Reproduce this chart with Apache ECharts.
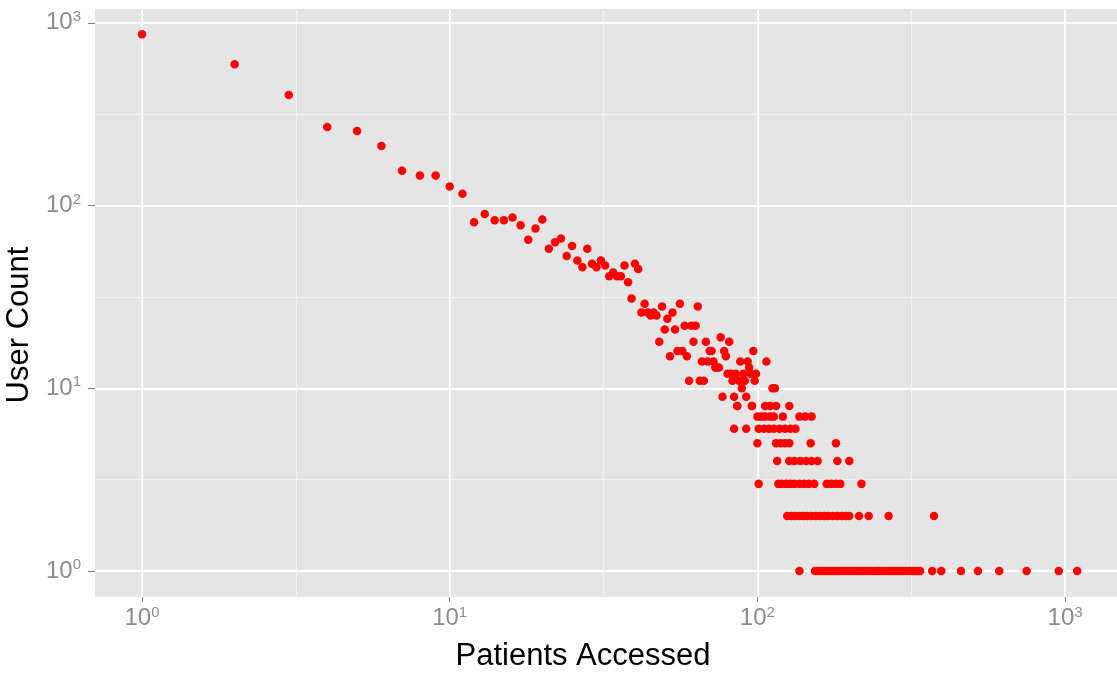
<!DOCTYPE html>
<html>
<head>
<meta charset="utf-8">
<title>Patients Accessed vs User Count</title>
<script src="https://cdn.jsdelivr.net/npm/echarts@6/dist/echarts.min.js"></script>
<style>
  html, body { margin: 0; padding: 0; background: #fff; }
  #chart { width: 1117px; height: 675px; }
</style>
</head>
<body>
<div id="chart"></div>
<script>
// number of patients accessed by a user, and how many users accessed that many
var patients = [
    1, 2, 3, 4, 5, 6, 7, 8, 9, 10, 11, 12, 13, 14, 15, 16, 17, 18, 19, 20,
    21, 22, 23, 24, 25, 26, 27, 28, 29, 30, 31, 32, 33, 34, 35, 36, 37, 38, 39, 40, 41,
    42, 43, 44, 45, 46, 47, 48, 49, 50, 51, 52, 53, 54, 55, 56, 57, 58, 59, 60,
    61, 62, 63, 64, 65, 66, 67, 68, 69, 70, 71, 72, 73, 74, 75, 76, 77, 78, 79, 80,
    81, 82, 83, 84, 85, 86, 87, 88, 89, 90, 91, 92, 93, 94, 95, 96, 97, 98, 99, 107,
    112, 114,
    86, 96, 106, 110, 115, 127,
    100, 103, 106, 110, 113, 121, 137, 143, 150,
    84, 92, 101, 105, 109, 113, 118, 123, 128, 133,
    100, 115, 119, 123, 127, 149, 180,
    116, 127, 132, 138, 144, 150, 157, 182, 199,
    101, 117, 120, 124, 128, 132, 137, 142, 147, 153, 168, 174, 180, 186, 218,
    125, 129, 133, 137, 141, 145, 150, 155, 160, 165, 170, 176, 182, 188, 194, 199, 214, 230, 267, 375,
    137, 154, 157, 160, 163, 166, 169, 172, 175, 178, 181, 184, 188, 192, 196, 200, 204, 208, 212, 216,
    220, 225, 230, 235, 240, 245, 250, 256, 262, 268, 274, 280, 286, 292, 298, 305, 312, 319, 326, 332,
    338, 370, 396, 459, 521, 611, 750, 954, 1095
];
var users = [
    867, 593, 403, 269, 256, 212, 155, 146, 146, 127, 116, 81, 90, 83, 83, 86, 78, 65, 75, 84,
    58, 63, 66, 53, 60, 50, 46, 58, 48, 46, 50, 47, 41, 43, 41, 41, 47, 38, 31, 48, 45,
    26, 29, 26, 25, 26, 25, 18, 28, 21, 24, 15, 26, 21, 16, 29, 16, 22, 15, 11,
    22, 18, 22, 28, 11, 14, 11, 18, 14, 16, 16, 14, 13, 13, 13, 19, 9, 16, 15, 12,
    18, 12, 11, 9, 12, 8, 11, 14, 10, 12, 11, 9, 14, 13, 12, 8, 16, 11, 12, 14,
    10, 10,
    8, 8, 8, 8, 8, 8,
    7, 7, 7, 7, 7, 7, 7, 7, 7,
    6, 6, 6, 6, 6, 6, 6, 6, 6, 6,
    5, 5, 5, 5, 5, 5, 5,
    4, 4, 4, 4, 4, 4, 4, 4, 4,
    3, 3, 3, 3, 3, 3, 3, 3, 3, 3, 3, 3, 3, 3, 3,
    2, 2, 2, 2, 2, 2, 2, 2, 2, 2, 2, 2, 2, 2, 2, 2, 2, 2, 2, 2,
    1, 1, 1, 1, 1, 1, 1, 1, 1, 1, 1, 1, 1, 1, 1, 1, 1, 1, 1, 1,
    1, 1, 1, 1, 1, 1, 1, 1, 1, 1, 1, 1, 1, 1, 1, 1, 1, 1, 1, 1,
    1, 1, 1, 1, 1, 1, 1, 1, 1
];
// labelled decades, and half-decade positions for the faint minor grid lines
var decades = [1, 10, 100, 1000];
var minorBreaks = [Math.pow(10, 0.5), Math.pow(10, 1.5), Math.pow(10, 2.5)];

var points = [];
for (var i = 0; i < patients.length; i++) {
    points.push([patients[i], users[i]]);
}

var font = 'Liberation Sans, Arial, sans-serif';
function tickLabel(margin) {
    return {
        customValues: decades,
        margin: margin,
        color: '#8c8c8c',
        fontFamily: font,
        fontSize: 24,
        formatter: function (v) {
            return '10{s|' + Math.round(Math.log10(v)) + '}';
        },
        rich: {
            s: { fontSize: 15, fontFamily: font, color: '#8c8c8c', verticalAlign: 'bottom', padding: [0, 0, 12, 0] }
        }
    };
}

var gridLines = [];
minorBreaks.forEach(function (b) {
    gridLines.push({ xAxis: b, lineStyle: { color: '#f2f2f2', width: 1 } });
    gridLines.push({ yAxis: b, lineStyle: { color: '#f2f2f2', width: 1 } });
});
decades.forEach(function (d) {
    gridLines.push({ xAxis: d, lineStyle: { color: '#ffffff', width: 1.8 } });
    gridLines.push({ yAxis: d, lineStyle: { color: '#ffffff', width: 1.8 } });
});

var chart = echarts.init(document.getElementById('chart'));
var option = {
    backgroundColor: '#ffffff',
    animation: false,
    grid: {
        show: true,
        left: 95, right: 0, top: 9, bottom: 78,
        outerBoundsMode: 'none',
        containLabel: false,
        backgroundColor: '#e5e5e5',
        borderWidth: 0
    },
    xAxis: {
        type: 'log',
        logBase: 10,
        min: 0.7034,
        max: 1475,
        name: 'Patients Accessed',
        nameLocation: 'middle',
        nameGap: 44,
        nameTextStyle: { color: '#000', fontSize: 31, fontFamily: font, padding: [0, 46, 0, 0] },
        axisLine: { show: false },
        axisTick: { show: true, customValues: decades, length: 5, lineStyle: { color: '#7f7f7f', width: 1 } },
        axisLabel: tickLabel(8),
        splitLine: { show: false }
    },
    yAxis: {
        type: 'log',
        logBase: 10,
        min: 0.7213,
        max: 1190,
        name: 'User Count',
        nameLocation: 'middle',
        nameGap: 58,
        nameTextStyle: { color: '#000', fontSize: 31, fontFamily: font, padding: [0, 44, 0, 0] },
        axisLine: { show: false },
        axisTick: { show: true, customValues: decades, length: 7, lineStyle: { color: '#7f7f7f', width: 1 } },
        axisLabel: tickLabel(14),
        splitLine: { show: false }
    },
    series: [
        {
            // empty series that only carries the panel grid lines
            type: 'scatter',
            data: [],
            silent: true,
            z: 1,
            markLine: {
                silent: true,
                z: 1,
                symbol: 'none',
                animation: false,
                label: { show: false },
                lineStyle: { type: 'solid' },
                data: gridLines
            }
        },
        {
            type: 'scatter',
            symbol: 'circle',
            symbolSize: 8.5,
            z: 10,
            itemStyle: { color: '#ff0000', opacity: 1 },
            data: points
        }
    ]
};
chart.setOption(option);
</script>
</body>
</html>
